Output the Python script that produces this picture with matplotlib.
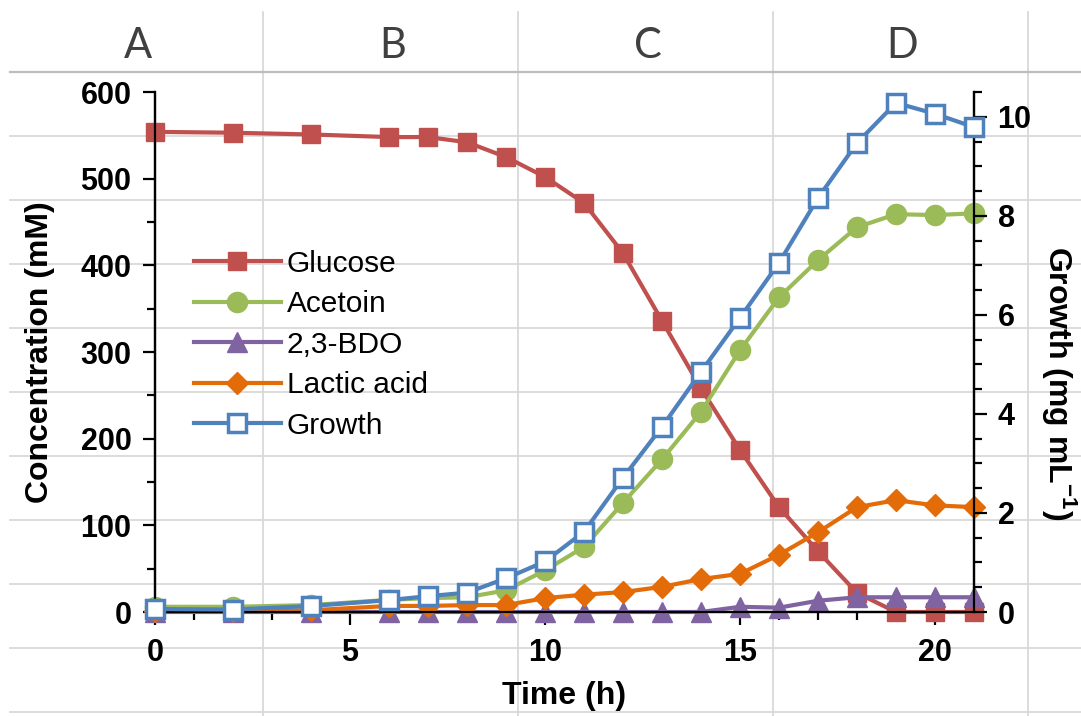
import matplotlib
matplotlib.use("Agg")
import matplotlib.pyplot as plt
from matplotlib.lines import Line2D
from matplotlib.ticker import MultipleLocator
import numpy as np

plt.rcParams['font.family'] = ['Liberation Sans', 'DejaVu Sans']
plt.rcParams['mathtext.fontset'] = 'custom'
plt.rcParams['mathtext.rm'] = 'Liberation Sans'
plt.rcParams['mathtext.bf'] = 'Liberation Sans:bold'

# data
time_h = [0, 2, 4, 6, 7, 8, 9, 10, 11, 12, 13, 14, 15, 16, 17, 18, 19, 20, 21]
glucose = [554, 553, 551, 548, 548, 542, 525, 502, 472, 414, 336, 258, 187, 121, 70, 22, 0, 0, 0]
acetoin = [6, 6, 8, 14, 16, 17, 25, 48, 75, 126, 176, 231, 302, 363, 406, 444, 459, 458, 460]
bdo = [0, 0, 0, 0, 0, 0, 0, 0, 0, 0, 0, 0, 6, 5, 13, 17, 17, 17, 17]
lactic = [1, 1, 2, 7, 7, 8, 8, 16, 20, 23, 29, 38, 44, 66, 92, 121, 129, 123, 121]
growth = [0.06, 0.05, 0.12, 0.24, 0.32, 0.39, 0.68, 1.02, 1.62, 2.71, 3.74, 4.85, 5.94, 7.05, 8.36, 9.47, 10.28, 10.06, 9.79]

columns = ['A', 'B', 'C', 'D']

W, H = 1081, 716
fig = plt.figure(figsize=(W / 100, H / 100), dpi=100)
fig.patch.set_facecolor('white')

# spreadsheet grid behind the chart (pixel positions -> figure fraction)
col_w, row_h = 255, 64
col_edges = [8 + col_w * (i + 1) for i in range(4)]
row_edges = [72 + row_h * i for i in range(11)]
for x in col_edges:
    fig.add_artist(Line2D([x / W, x / W], [0, 1 - 12 / H], color='#d6d6d6', lw=1.2, zorder=0))
for i, y in enumerate(row_edges):
    fig.add_artist(Line2D([10 / W, 1], [1 - y / H, 1 - y / H],
                          color='#bdbdbd' if i == 0 else '#d6d6d6', lw=1.6 if i == 0 else 1.2, zorder=0))
for i, c in enumerate(columns):
    cx = 8 + col_w * i + col_w / 2 + 2
    fig.text(cx / W, 1 - 46 / H, c, ha='center', va='center', fontsize=30,
             color='#404040', family=['Lato', 'DejaVu Sans'])

x0, x1, ytop, ybot = 155, 974, 92, 612
ax = fig.add_axes([x0 / W, 1 - ybot / H, (x1 - x0) / W, (ybot - ytop) / H])
ax.patch.set_alpha(0)
ax2 = ax.twinx()
ax2.patch.set_alpha(0)

lw, ms = 3.0, 14.5
h1, = ax.plot(time_h, glucose, color='#C0504D', lw=lw, marker='s', ms=ms - 1, label='Glucose', clip_on=False, zorder=3)
h2, = ax.plot(time_h, acetoin, color='#9BBB59', lw=lw, marker='o', ms=ms, label='Acetoin', clip_on=False, zorder=3)
h3, = ax.plot(time_h, bdo, color='#8064A2', lw=lw, marker='^', ms=ms, label='2,3-BDO', clip_on=False, zorder=3)
h4, = ax.plot(time_h, lactic, color='#E36C09', lw=lw, marker='D', ms=ms - 3, label='Lactic acid', clip_on=False, zorder=3)
h5, = ax2.plot(time_h, growth, color='#4F81BD', lw=lw, marker='s', ms=ms - 1.5, mfc='white', mec='#4F81BD',
               mew=2.5, label='Growth', clip_on=False, zorder=3)

ax.set_xlim(0, 21)
ax.set_ylim(0, 600)
ax2.set_ylim(0, 10.5)
ax.xaxis.set_major_locator(MultipleLocator(5))
ax.xaxis.set_minor_locator(MultipleLocator(1))
ax.yaxis.set_major_locator(MultipleLocator(100))
ax.yaxis.set_minor_locator(MultipleLocator(50))
ax2.yaxis.set_major_locator(MultipleLocator(2))
ax2.yaxis.set_minor_locator(MultipleLocator(0.5))

for a in (ax, ax2):
    a.spines['top'].set_visible(False)
    for s in ('left', 'right', 'bottom'):
        a.spines[s].set_linewidth(1.6)
        a.spines[s].set_color('black')
    a.tick_params(which='major', direction='out', length=9, width=1.6, labelsize=22, pad=8)
    a.tick_params(which='minor', direction='out', length=6, width=1.6)
ax.tick_params(axis='x', pad=10)
for lab in ax.get_xticklabels() + ax.get_yticklabels() + ax2.get_yticklabels():
    lab.set_fontweight('bold')

ax.set_xlabel('Time (h)', fontsize=23, fontweight='bold', labelpad=9)
ax.set_ylabel('Concentration (mM)', fontsize=23, fontweight='bold', labelpad=18)
ax2.set_ylabel(r'Growth (mg mL$^{\mathbf{-1}}$)', fontsize=23, fontweight='bold', rotation=270, va='center')
ax2.yaxis.set_label_coords(1.104, 0.44)

leg = ax2.legend(handles=[h1, h2, h3, h4, h5], loc='upper left', bbox_to_anchor=(0.033, 0.72),
                 frameon=False, fontsize=21.5, handlelength=2.9, labelspacing=0.42, handletextpad=0.2,
                 borderaxespad=0)

fig.savefig('out.png', dpi=100)
